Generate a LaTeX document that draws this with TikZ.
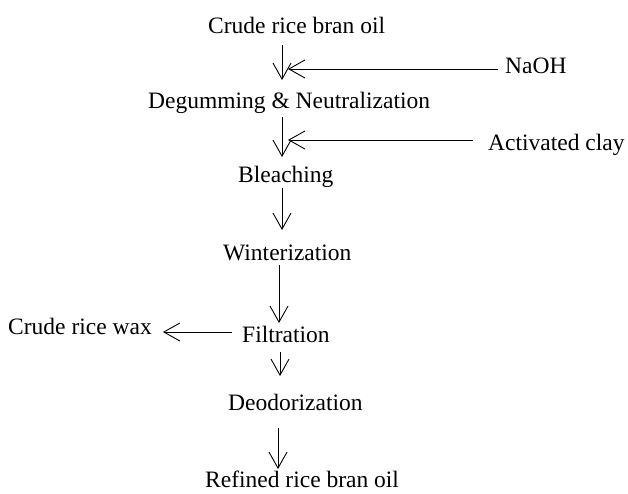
\documentclass[tikz,border=0pt]{standalone}
\usepackage{fontspec}
\setmainfont{Liberation Serif}
\usetikzlibrary{arrows.meta,calc}
\begin{document}
\begin{tikzpicture}[x=1pt,y=-1pt,
  lbl/.style={inner sep=0pt,anchor=base west,font=\fontsize{23.5}{28}\selectfont},
  arr/.style={line width=0.9pt,-{Straight Barb[length=16pt,width=18pt,line width=0.9pt]}}]
\useasboundingbox (0,0) rectangle (628,493);
% arrow x positions
\coordinate (xa) at (282,0);
\coordinate (xb) at (279,0);
\coordinate (xc) at (280,0);
\coordinate (xd) at (278,0);
% nodes
\node[lbl] (crude) at (208,33) {Crude rice bran oil};
\node[lbl] (naoh) at (505,73) {NaOH};
\node[lbl] (degum) at (148,108) {Degumming \& Neutralization};
\node[lbl] (clay) at (488,150) {Activated clay};
\node[lbl] (bleach) at (238,182) {Bleaching};
\node[lbl] (winter) at (223,260) {Winterization};
\node[lbl] (filt) at (242,342) {Filtration};
\node[lbl] (wax) at (8,334) {Crude rice wax};
\node[lbl] (deo) at (228,410) {Deodorization};
\node[lbl] (refined) at (205,487) {Refined rice bran oil};
% vertical connectors
\draw[arr] ($(crude.base -| xa)+(0,12)$) -- ($(degum.base -| xa)+(0,-28)$);
\draw[arr] ($(degum.base -| xa)+(0,9)$) -- ($(bleach.base -| xa)+(0,-25)$);
\draw[arr] ($(bleach.base -| xa)+(0,6)$) -- ($(winter.base -| xa)+(0,-30)$);
\draw[arr] ($(winter.base -| xb)+(0,5)$) -- ($(filt.base -| xb)+(0,-19)$);
\draw[arr] ($(filt.base -| xc)+(0,10)$) -- ($(deo.base -| xc)+(0,-34)$);
\draw[arr] ($(deo.base -| xd)+(0,18)$) -- ($(refined.base -| xd)+(0,-18)$);
% horizontal connectors
\draw[arr] ($(naoh.base west)+(-7,-4)$) -- ($(naoh.base west -| xa)+(6,-4)$);
\draw[arr] ($(clay.base west)+(-15,-10)$) -- ($(clay.base west -| xa)+(6,-10)$);
\draw[arr] ($(filt.base west)+(-10,-10)$) -- ($(wax.base east)+(11,-2)$);
\end{tikzpicture}
\end{document}
